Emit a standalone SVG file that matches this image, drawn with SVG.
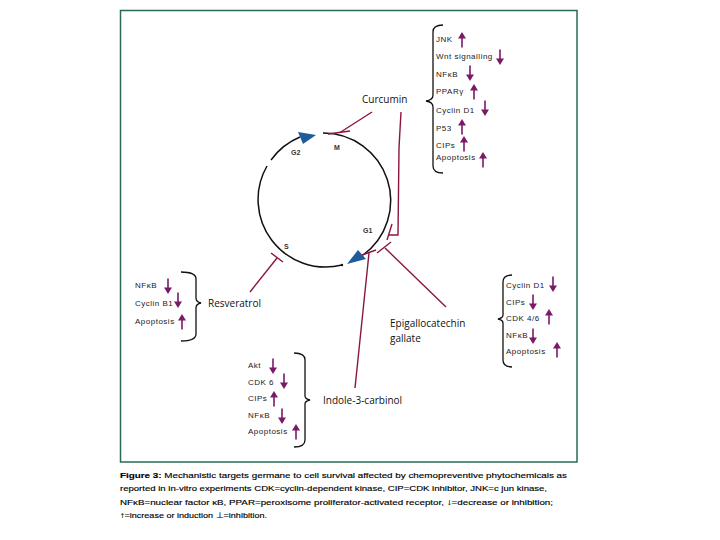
<svg xmlns="http://www.w3.org/2000/svg" xmlns:xlink="http://www.w3.org/1999/xlink" width="720" height="540" viewBox="0 0 720 540">
<style>
.lbl{font-family:"Open Sans","Liberation Sans",sans-serif;font-size:10px;fill:#111}
.item{font-family:"Liberation Sans",Arial,sans-serif;font-size:8px;letter-spacing:0.5px;fill:#1a1a1a}
.phase{font-family:"Liberation Sans",Arial,sans-serif;font-size:7px;font-weight:bold;fill:#333}
.cap{font-family:"Liberation Sans",Arial,sans-serif;font-size:8px;fill:#000;stroke:#000;stroke-width:0.15}
.inh{fill:none;stroke:#8a1640;stroke-width:1.4}
.brace{fill:none;stroke:#111;stroke-width:1.3}
.cyc{fill:none;stroke:#111;stroke-width:1.5}
.tri{fill:#1f5c99}
</style>
<defs>
<g id="up"><polygon points="0,-8 4,-1.5 -4,-1.5" fill="#7a1a68"/><line x1="0" y1="-2" x2="0" y2="7.5" stroke="#7a1a68" stroke-width="1.6"/></g>
<g id="dn"><polygon points="0,8 4,1.5 -4,1.5" fill="#7a1a68"/><line x1="0" y1="2" x2="0" y2="-7.5" stroke="#7a1a68" stroke-width="1.6"/></g>
</defs>
<rect width="720" height="540" fill="#fff"/>
<rect x="120.5" y="10.5" width="456.5" height="451.5" fill="none" stroke="#2a6a52" stroke-width="1.5"/>

<g id="cell-cycle">
<path class="cyc" d="M323,133 A67.5,67.5 0 0 1 363,255"/>
<path class="cyc" d="M342,265 A67.5,67.5 0 0 1 267,166"/>
<path class="cyc" d="M271,160 A67.5,67.5 0 0 1 300,137"/>
<circle cx="342" cy="265" r="1.2" fill="#111"/>
<polygon class="tri" points="298,132 316,135 303,144"/>
<polygon class="tri" points="358,250 366,259 347,264"/>
<text class="phase" x="291" y="155">G2</text>
<text class="phase" x="334" y="150">M</text>
<text class="phase" x="363" y="233">G1</text>
<text class="phase" x="284" y="249">S</text>
</g>

<g id="connectors">
<line class="inh" x1="372" y1="112" x2="340" y2="132.5"/>
<line class="inh" x1="328" y1="134" x2="350" y2="131"/>
<path class="inh" d="M401,112 L399,148 L398,235 L389,235"/>
<line class="inh" x1="392" y1="224" x2="387" y2="240"/>
<line class="inh" x1="446" y1="307" x2="385" y2="248"/>
<line class="inh" x1="377" y1="253" x2="391" y2="242"/>
<line class="inh" x1="355" y1="388" x2="369" y2="253"/>
<line class="inh" x1="362" y1="255" x2="376" y2="250"/>
<line class="inh" x1="250" y1="292" x2="277" y2="258"/>
<line class="inh" x1="271" y1="253" x2="283" y2="262"/>
</g>

<g id="curcumin">
<text class="lbl" x="362" y="103">Curcumin</text>
<path class="brace" d="M443,25 Q433,25 433,32 L433,95 Q433,100 426,101 Q433,102 433,107 L433,166 Q433,173 443,173"/>
<text class="item" x="436" y="42">JNK</text><use xlink:href="#up" x="462" y="40"/>
<text class="item" x="436" y="59">Wnt signalling</text><use xlink:href="#dn" x="500" y="57"/>
<text class="item" x="436" y="77">NFκB</text><use xlink:href="#dn" x="470" y="73"/>
<text class="item" x="436" y="94">PPARγ</text><use xlink:href="#up" x="474" y="92"/>
<text class="item" x="436" y="113">Cyclin D1</text><use xlink:href="#dn" x="485" y="108"/>
<text class="item" x="436" y="131">P53</text><use xlink:href="#up" x="462" y="127"/>
<text class="item" x="436" y="148">CIPs</text><use xlink:href="#up" x="464" y="144"/>
<text class="item" x="436" y="160">Apoptosis</text><use xlink:href="#up" x="483" y="160"/>
</g>

<g id="resveratrol">
<text class="lbl" x="208" y="307">Resveratrol</text>
<path class="brace" d="M181,272 Q196,272 196,279 L196,298 Q196,302 201,303 Q196,304 196,308 L196,334 Q196,341 181,341"/>
<text class="item" x="135" y="288">NFκB</text><use xlink:href="#dn" x="168" y="286"/>
<text class="item" x="135" y="306">Cyclin B1</text><use xlink:href="#dn" x="178" y="300"/>
<text class="item" x="135" y="324">Apoptosis</text><use xlink:href="#up" x="182" y="322"/>
</g>

<g id="egcg">
<text class="lbl" x="390" y="327">Epigallocatechin</text>
<text class="lbl" x="390" y="342">gallate</text>
<path class="brace" d="M512,275 Q503,275 503,282 L503,315 Q503,318 498,319 Q503,320 503,323 L503,360 Q503,367 512,367"/>
<text class="item" x="506" y="288">Cyclin D1</text><use xlink:href="#dn" x="553" y="284"/>
<text class="item" x="506" y="305">CIPs</text><use xlink:href="#dn" x="533" y="302"/>
<text class="item" x="506" y="321">CDK 4/6</text><use xlink:href="#up" x="549" y="317"/>
<text class="item" x="506" y="338">NFκB</text><use xlink:href="#dn" x="533" y="336"/>
<text class="item" x="506" y="354">Apoptosis</text><use xlink:href="#up" x="557" y="350"/>
</g>

<g id="indole">
<text class="lbl" x="323" y="404">Indole-3-carbinol</text>
<path class="brace" d="M294,353 Q305,353 305,360 L305,396 Q305,399 310,400 Q305,401 305,404 L305,440 Q305,447 294,447"/>
<text class="item" x="248" y="368">Akt</text><use xlink:href="#dn" x="273" y="366"/>
<text class="item" x="248" y="385">CDK 6</text><use xlink:href="#dn" x="284" y="381"/>
<text class="item" x="248" y="401">CIPs</text><use xlink:href="#up" x="274" y="399"/>
<text class="item" x="248" y="418">NFκB</text><use xlink:href="#dn" x="282" y="416"/>
<text class="item" x="248" y="434">Apoptosis</text><use xlink:href="#up" x="296" y="432"/>
</g>

<g id="caption">
<text class="cap" x="120" y="478" textLength="447" lengthAdjust="spacingAndGlyphs"><tspan font-weight="bold">Figure 3:</tspan> Mechanistic targets germane to cell survival affected by chemopreventive phytochemicals as</text>
<text class="cap" x="120" y="491" textLength="427" lengthAdjust="spacingAndGlyphs">reported in in-vitro experiments CDK=cyclin-dependent kinase, CIP=CDK inhibitor, JNK=c jun kinase,</text>
<text class="cap" x="120" y="505" textLength="433" lengthAdjust="spacingAndGlyphs">NFκB=nuclear factor κB, PPAR=peroxisome proliferator-activated receptor, ↓=decrease or inhibition;</text>
<text class="cap" x="120" y="518" textLength="147" lengthAdjust="spacingAndGlyphs">↑=increase or induction ⊥=inhibition.</text>
</g>
</svg>
